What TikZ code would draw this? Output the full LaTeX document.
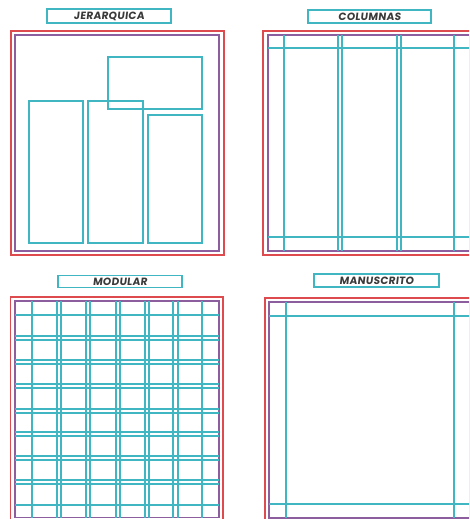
\documentclass[tikz,border=0pt]{standalone}
\usepackage{fontspec}
\newfontfamily\labfont{Poppins}[FakeSlant=0.12, LetterSpace=3]
\definecolor{pgred}{HTML}{DD4B4E}
\definecolor{pgpur}{HTML}{8C5E9E}
\definecolor{pgcyan}{HTML}{3FB6C2}
\definecolor{pgtext}{HTML}{3A3A3A}
\tikzset{
  redframe/.style={draw=pgred, line width=1.5pt},
  purframe/.style={draw=pgpur, line width=1.2pt},
  guide/.style={draw=pgcyan, line width=1.2pt},
  labelbox/.style={draw=pgcyan, line width=1.3pt, rectangle, inner sep=0pt,
    text=pgtext, font=\labfont\bfseries\fontsize{10.5}{11}\selectfont},
}
\begin{document}
\begin{tikzpicture}[x=1pt,y=-1pt]
\useasboundingbox (0,0) rectangle (469,519);
\clip (0,0) rectangle (469,519);
% ---------- JERARQUICA ----------
\node[labelbox, minimum width=124pt, minimum height=14pt] (ljer) at (109,16) {JERARQUICA};
\draw[redframe] (11,31) rectangle (224,255);
\draw[purframe] (15,35) rectangle (219,251);
\draw[guide] (108,57) rectangle (202,109);
\draw[guide] (29,101) rectangle (83,243);
\draw[guide] (88,101) rectangle (143,243);
\draw[guide] (148,115) rectangle (202,243);
% ---------- COLUMNAS ----------
\node[labelbox, minimum width=123pt, minimum height=13pt] (lcol) at (369.5,16.5) {COLUMNAS};
\draw[redframe] (263,31) rectangle (475,255);
\draw[purframe] (268,35) rectangle (470,251);
\foreach \x in {284,338,342,397,401,454} \draw[guide] (\x,35) -- (\x,251);
\foreach \y in {48,237} \draw[guide] (268,\y) -- (470,\y);
% ---------- MODULAR ----------
\node[labelbox, minimum width=124pt, minimum height=12pt] (lmod) at (120,281.5) {MODULAR};
\draw[redframe] (10.5,297) rectangle (223,522);
\draw[purframe] (15,301) rectangle (219,517.5);
\foreach \x in {32,57,61,86,90,116,120,145,149,173,178,202} \draw[guide] (\x,301) -- (\x,517.5);
\foreach \y in {315,336,340,360,364,384,388,409,413,432,436,456,460,480,484,505} \draw[guide] (15,\y) -- (219,\y);
% ---------- MANUSCRITO ----------
\node[labelbox, minimum width=125pt, minimum height=13pt] (lman) at (376.5,280.5) {MANUSCRITO};
\draw[redframe] (265,298) rectangle (475,522);
\draw[purframe] (269,302) rectangle (470,518);
\foreach \x in {286,454} \draw[guide] (\x,302) -- (\x,518);
\foreach \y in {316,504} \draw[guide] (269,\y) -- (470,\y);
\end{tikzpicture}
\end{document}
